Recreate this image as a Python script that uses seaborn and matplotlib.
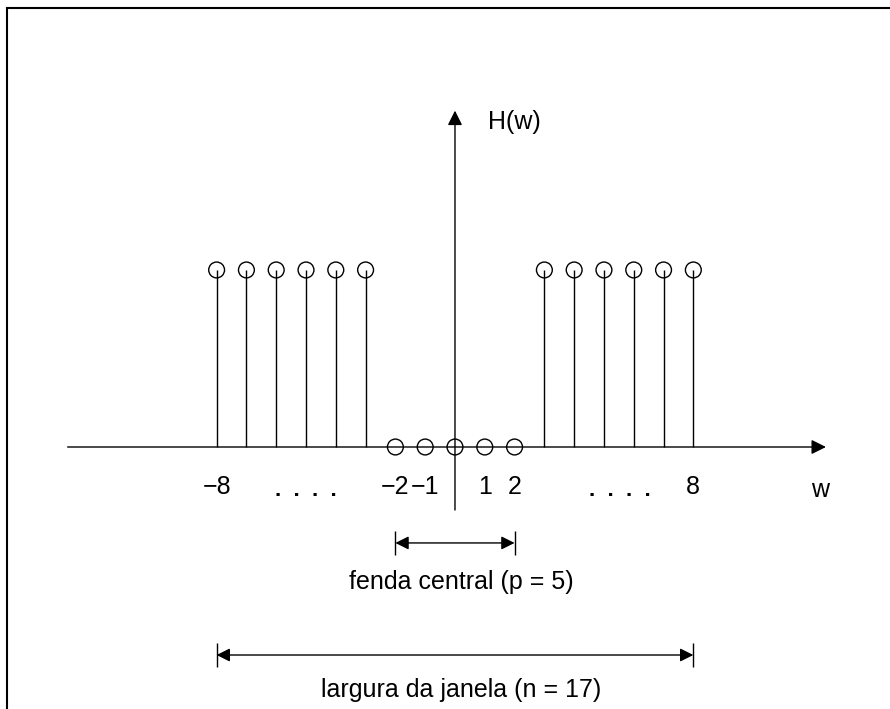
import numpy as np
import pandas as pd
import seaborn as sns
from matplotlib import pyplot as plt
from matplotlib.patches import Rectangle

# sample positions and window values H(w)
w_values = list(range(-8, 9))
h_values = [1, 1, 1, 1, 1, 1, 0, 0, 0, 0, 0, 1, 1, 1, 1, 1, 1]
tick_positions = [-8, -2, -1, 1, 2, 8]
tick_labels = ["\u22128", "\u22122", "\u22121", "1", "2", "8"]
central_gap = (-2, 2)
window_width = (-8, 8)

sns.set_theme(style="white")
plt.rcParams["font.family"] = ["Liberation Sans", "DejaVu Sans"]
plt.rcParams["text.color"] = "black"

table = pd.DataFrame({"w": w_values, "H": h_values})

fig = plt.figure(figsize=(8.9, 7.09), dpi=100)
ax = fig.add_axes([0, 0, 1, 1])
ax.set_xlim(-15.27, 14.60)
ax.set_ylim(-1.48, 2.525)
ax.axis("off")

FS = 18

# frame (only left/top visible in the original crop)
fig.patches.append(Rectangle((0.0079, -0.5), 2.0, 1.4887, transform=fig.transFigure,
                             fill=False, edgecolor="black", linewidth=1.5))

# axes with arrows
ax.annotate("", xy=(12.45, 0), xytext=(-13.0, 0),
            arrowprops=dict(arrowstyle="-|>", color="black", lw=1.0, mutation_scale=22,
                            shrinkA=0, shrinkB=0))
ax.annotate("", xy=(0, 1.9), xytext=(0, -0.356),
            arrowprops=dict(arrowstyle="-|>", color="black", lw=1.0, mutation_scale=22,
                            shrinkA=0, shrinkB=0))

# stems
ax.vlines(table["w"], 0, table["H"], color="black", lw=1.0)
sns.scatterplot(data=table, x="w", y="H", ax=ax, marker="o", s=130,
                facecolors="none", edgecolor="black", linewidth=1.0, zorder=5)

for pos, lab in zip(tick_positions, tick_labels):
    ax.text(pos, -0.226, lab, ha="center", va="center", fontsize=FS)

ax.text(12.25, -0.245, "w", ha="center", va="center", fontsize=FS)
ax.text(2.0, 1.836, "H(w)", ha="center", va="center", fontsize=FS)

for xc in (-5.0, 5.55):
    ax.text(xc, -0.275, ".  .  .  .", ha="center", va="baseline", fontsize=16, fontweight="bold")

# dimension arrows
def dim_arrow(span, y, label, ly):
    ax.annotate("", xy=(span[1], y), xytext=(span[0], y),
                arrowprops=dict(arrowstyle="<|-|>", color="black", lw=1.0, mutation_scale=20,
                                shrinkA=0, shrinkB=0))
    ax.vlines(list(span), y - 0.07, y + 0.07, color="black", lw=1.0)
    ax.text(0.2, ly, label, ha="center", va="center", fontsize=FS)

dim_arrow(central_gap, -0.542, "fenda central (p = 5)", -0.763)
dim_arrow(window_width, -1.175, "largura da janela (n = 17)", -1.373)

fig.savefig("out.png", dpi=100)
